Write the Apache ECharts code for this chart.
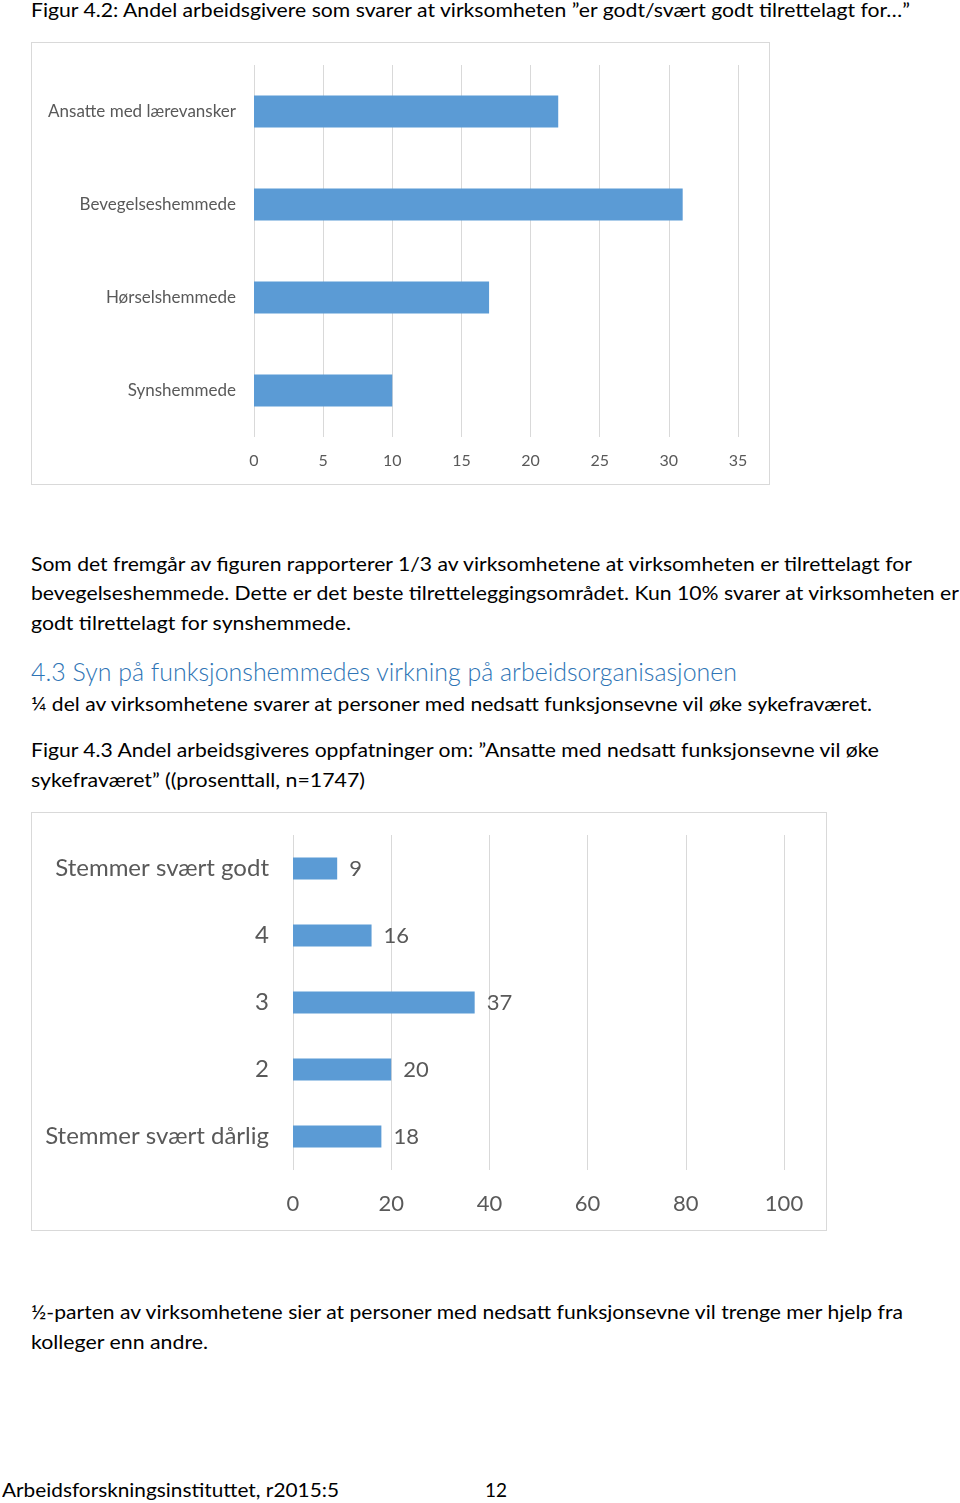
<!DOCTYPE html>
<html>
<head>
<meta charset="utf-8">
<script src="https://cdn.jsdelivr.net/npm/echarts@6/dist/echarts.min.js"></script>
<style>
  html,body{margin:0;padding:0;background:#fff;}
  body{width:960px;height:1503px;position:relative;overflow:hidden;font-family:Lato,"Open Sans",sans-serif;color:#000;}
  .t{position:absolute;white-space:nowrap;line-height:1;transform-origin:0 50%;}
  .box{position:absolute;border:1px solid #d9d9d9;box-sizing:border-box;}
</style>
</head>
<body>
<div id="c1" class="box" style="left:31px;top:42px;width:739px;height:443px;"></div>
<div id="c2" class="box" style="left:31px;top:812px;width:796px;height:419px;"></div>
<script>
// ---- data ----
const fig1Categories = ["Ansatte med lærevansker", "Bevegelseshemmede", "Hørselshemmede", "Synshemmede"];
const fig1Values = [22, 31, 17, 10];
const fig1Ticks = [0, 5, 10, 15, 20, 25, 30, 35];

const fig2Categories = ["Stemmer svært godt", "4", "3", "2", "Stemmer svært dårlig"];
const fig2Values = [9, 16, 37, 20, 18];
const fig2Ticks = [0, 20, 40, 60, 80, 100];

// ---- page text: [text, left, centerY, targetWidth, fontSize, color] ----
const lines = [
  ["Figur 4.2: Andel arbeidsgivere som svarer at virksomheten ”er godt/svært godt tilrettelagt for…”", 31, 10, 879, 20, "#000"],
  ["Som det fremgår av figuren rapporterer 1/3 av virksomhetene at virksomheten er tilrettelagt for", 31, 564, 881, 20, "#000"],
  ["bevegelseshemmede.  Dette er det beste tilretteleggingsområdet. Kun 10% svarer at virksomheten er", 31, 593, 928, 20, "#000"],
  ["godt tilrettelagt for synshemmede.", 31, 623, 320, 20, "#000"],
  ["4.3 Syn på funksjonshemmedes virkning på arbeidsorganisasjonen", 31, 672, 706, 25, "#2e74b5"],
  ["¼ del av virksomhetene svarer at personer med nedsatt funksjonsevne vil øke sykefraværet.", 31, 704, 841, 20, "#000"],
  ["Figur 4.3 Andel arbeidsgiveres oppfatninger om: ”Ansatte med nedsatt funksjonsevne vil øke", 31, 750, 848, 20, "#000"],
  ["sykefraværet” ((prosenttall, n=1747)", 31, 780, 334, 20, "#000"],
  ["½-parten av virksomhetene sier at personer med nedsatt funksjonsevne vil trenge mer hjelp fra", 31, 1312, 872, 20, "#000"],
  ["kolleger enn andre.", 31, 1342, 177, 20, "#000"],
  ["Arbeidsforskningsinstituttet, r2015:5", 2, 1490, 337, 20, "#000"],
  ["12", 485, 1490, 22, 20, "#000"]
];
lines.forEach(function(l){
  const d = document.createElement('div');
  d.className = 't';
  d.textContent = l[0];
  d.style.left = l[1] + 'px';
  d.style.fontSize = l[4] + 'px';
  d.style.color = l[5];
  d.style.fontWeight = l[5] === '#000' ? '400' : '300';
  document.body.appendChild(d);
  const h = d.offsetHeight;
  d.style.top = (l[2] - h / 2 - 1) + 'px';
  const w = d.getBoundingClientRect().width;
  d.style.transform = 'scaleX(' + (l[3] / w) + ')';
});

const grey = '#595959';
const gridColor = '#d9d9d9';
const barColor = '#5b9bd5';
const ff = 'Lato';

const chart1 = echarts.init(document.getElementById('c1'), null, {renderer: 'canvas'});
chart1.setOption({
  animation: false,
  grid: {left: 222, right: 31, top: 22, bottom: 47, containLabel: false},
  xAxis: {
    type: 'value', min: fig1Ticks[0], max: fig1Ticks[fig1Ticks.length - 1], interval: fig1Ticks[1] - fig1Ticks[0],
    axisLine: {show: false}, axisTick: {show: false},
    splitLine: {show: true, lineStyle: {color: gridColor, width: 1}},
    axisLabel: {color: grey, fontSize: 16, fontFamily: ff, margin: 16}
  },
  yAxis: {
    type: 'category', data: fig1Categories, inverse: true,
    axisLine: {show: false}, axisTick: {show: false},
    axisLabel: {color: grey, fontSize: 17, fontFamily: ff, margin: 18}
  },
  series: [{
    type: 'bar', data: fig1Values, barWidth: 32,
    itemStyle: {color: barColor}
  }]
});

const chart2 = echarts.init(document.getElementById('c2'), null, {renderer: 'canvas'});
chart2.setOption({
  animation: false,
  grid: {left: 261, right: 42, top: 22, bottom: 60, containLabel: false},
  xAxis: {
    type: 'value', min: fig2Ticks[0], max: fig2Ticks[fig2Ticks.length - 1], interval: fig2Ticks[1] - fig2Ticks[0],
    axisLine: {show: false}, axisTick: {show: false},
    splitLine: {show: true, lineStyle: {color: gridColor, width: 1}},
    axisLabel: {color: grey, fontSize: 22, fontFamily: ff, margin: 23}
  },
  yAxis: {
    type: 'category', data: fig2Categories, inverse: true,
    axisLine: {show: false}, axisTick: {show: false},
    axisLabel: {color: grey, fontSize: 24, fontFamily: ff, margin: 24}
  },
  series: [{
    type: 'bar', data: fig2Values, barWidth: 22,
    itemStyle: {color: barColor},
    label: {show: true, position: 'right', distance: 12, color: grey, fontSize: 22, fontFamily: ff}
  }]
});
</script>
</body>
</html>
